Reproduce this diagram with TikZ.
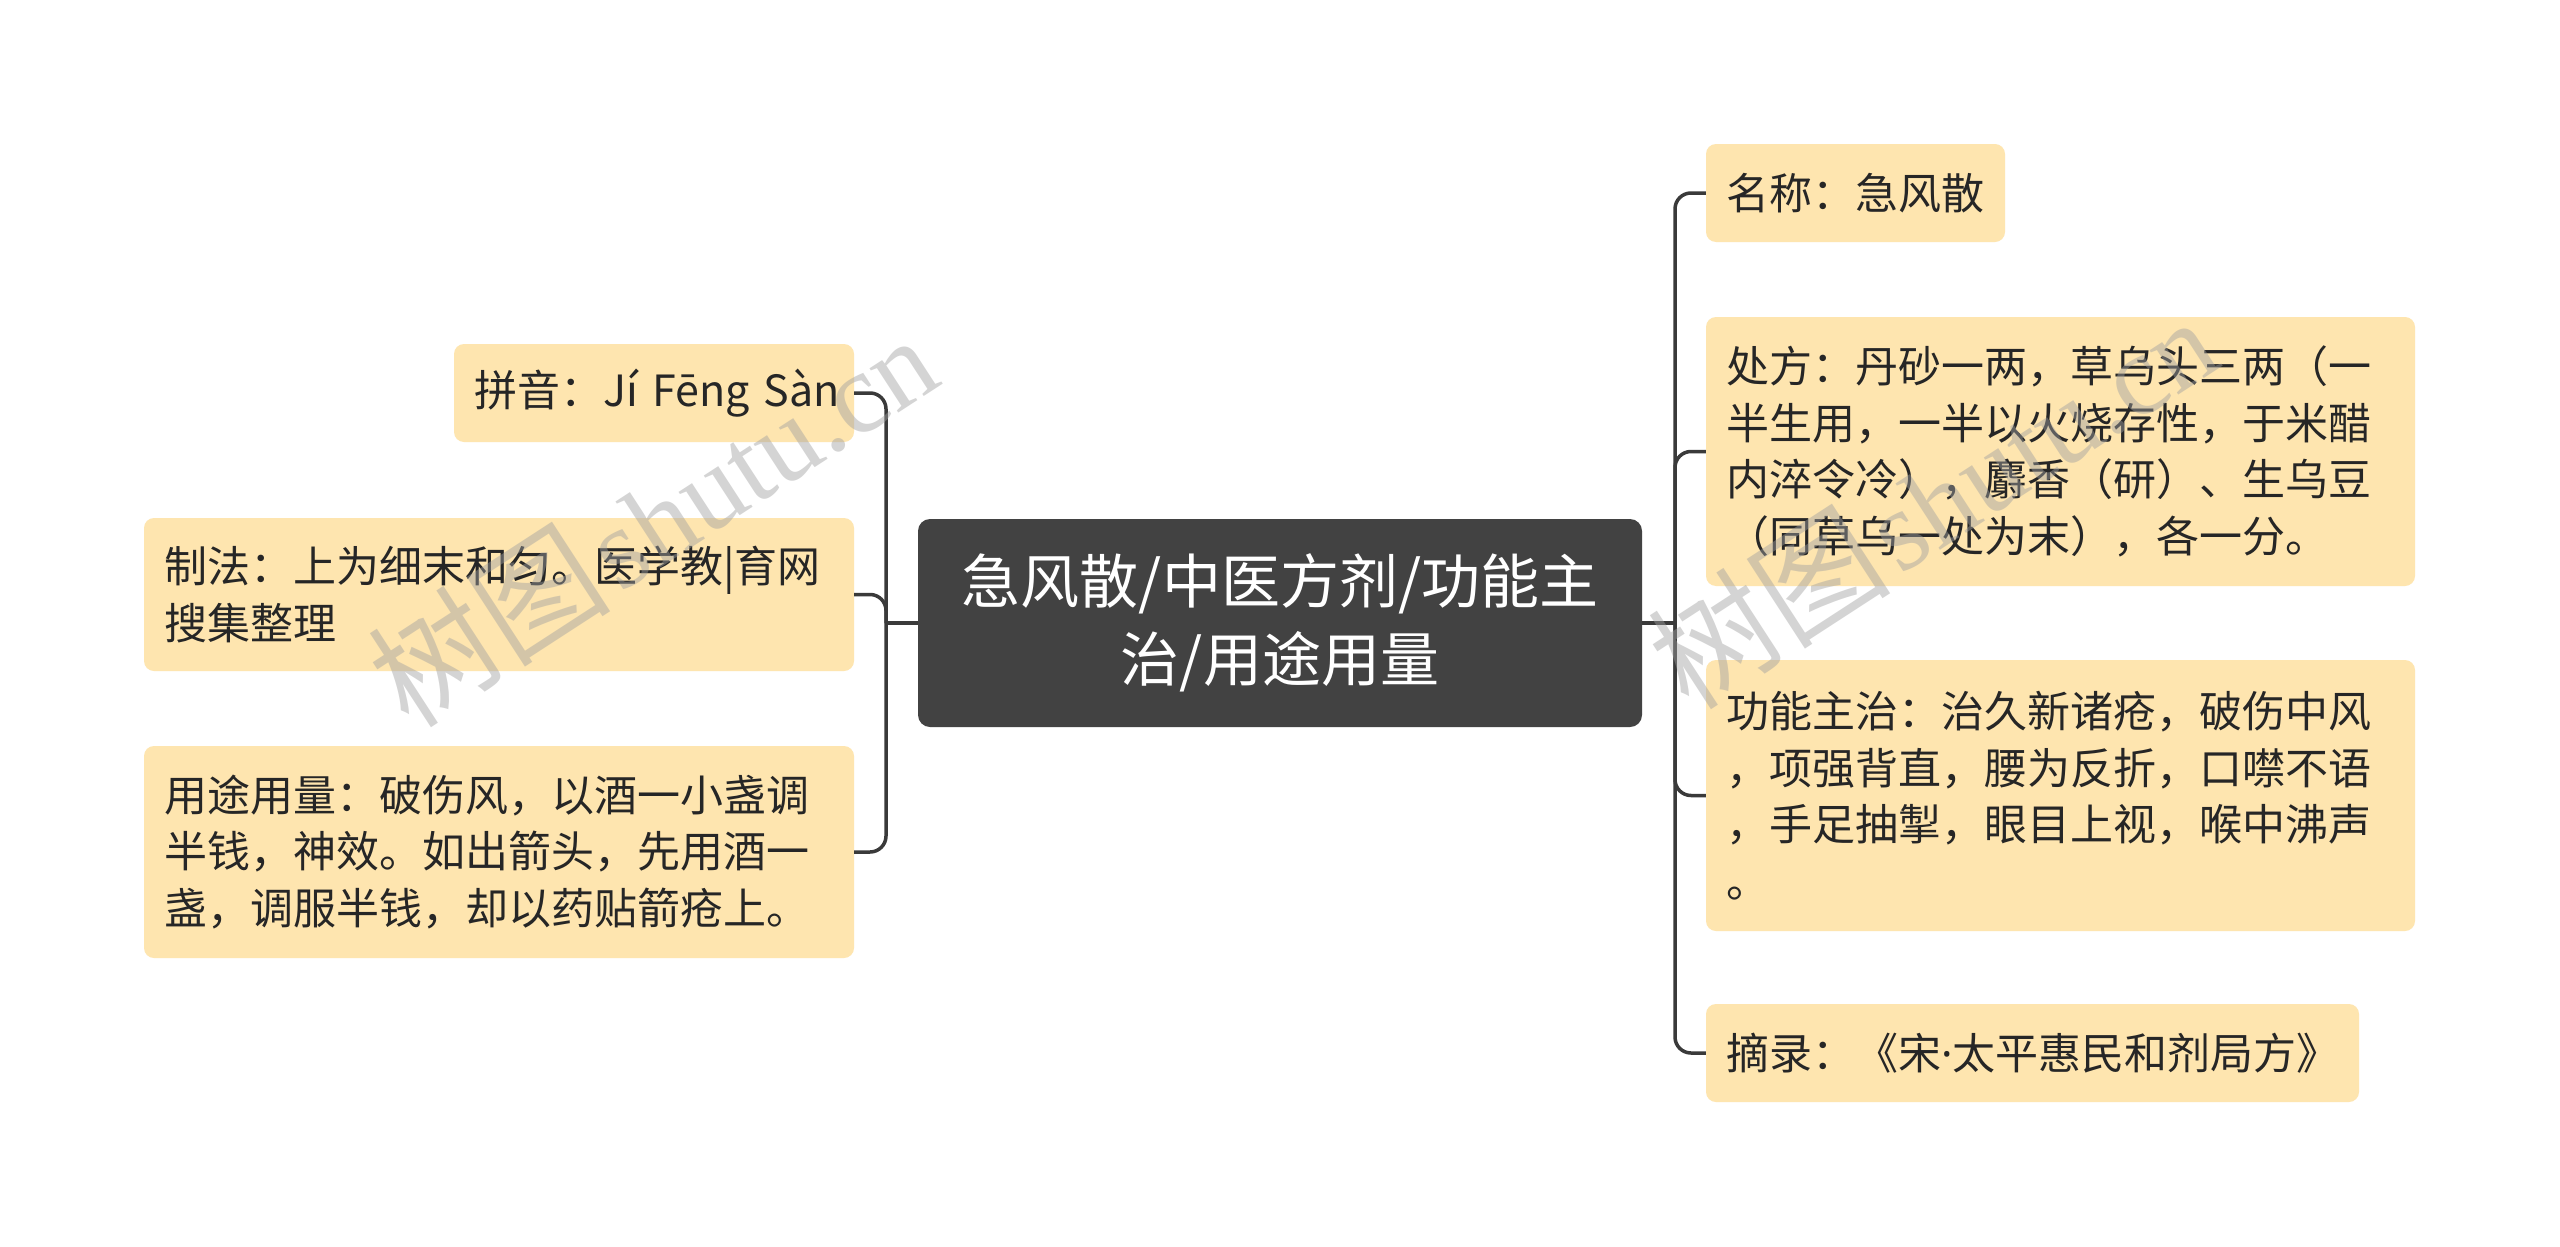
\documentclass[tikz,border=0pt]{standalone}
\usepackage{fontspec}
\newfontfamily\cjk{Noto Sans CJK SC}
\newfontfamily\latinsans{Noto Sans}
\newfontfamily\wmserif{Liberation Serif}
\definecolor{leafc}{RGB}{254,229,175}
\definecolor{rootc}{RGB}{66,66,66}
\definecolor{linec}{RGB}{58,58,58}
\definecolor{txtc}{RGB}{38,38,38}
\definecolor{wmc}{RGB}{160,160,160}
\tikzset{
  leaf/.style={rectangle, rounded corners=10pt, fill=leafc, text=txtc, inner xsep=20pt, inner ysep=0pt,
    align=left, font=\cjk\fontsize{43}{56.5}\selectfont},
  rootnode/.style={rectangle, rounded corners=12pt, fill=rootc, text=white, inner sep=0pt,
    align=center, font=\cjk\fontsize{59}{78}\selectfont, minimum width=724pt, minimum height=208pt},
  conn/.style={draw=linec, line width=3.5pt, rounded corners=16pt},
  wmark/.style={text=wmc, opacity=0.45, rotate=33, inner sep=0pt}
}
\begin{document}
\begin{tikzpicture}[x=1pt,y=-1pt]
\useasboundingbox[fill=white] (0,0) rectangle (2560,1247);
% root
\node[rootnode] (root) at (1280,623) {急风散/中医方剂/功能主\\治/用途用量};
% left
\node[leaf, text width=360pt, minimum height=98pt] (py) at (654,393) {\mbox{拼音：Jí Fēng Sàn}};
\node[leaf, text width=670pt, minimum height=153pt] (zf) at (499,594.5) {制法：上为细末和匀。医学教|育网\\搜集整理};
\node[leaf, text width=670pt, minimum height=212pt] (yt) at (499,852) {用途用量：破伤风，以酒一小盏调\\半钱，神效。如出箭头，先用酒一\\盏，调服半钱，却以药贴箭疮上。};
% right
\node[leaf, text width=259pt, minimum height=98pt] (mc) at (1855.5,193) {名称：急风散};
\node[leaf, text width=669pt, minimum height=269pt] (cf) at (2060.5,451.5) {处方：丹砂一两，草乌头三两（一\\半生用，一半以火烧存性，于米醋\\内淬令冷），麝香（研）、生乌豆\\（同草乌一处为末），各一分。};
\node[leaf, text width=669pt, minimum height=271pt] (gn) at (2060.5,795.5) {功能主治：治久新诸疮，破伤中风\\，项强背直，腰为反折，口噤不语\\，手足抽掣，眼目上视，喉中沸声\\。};
\node[leaf, text width=613pt, minimum height=98pt] (zl) at (2032.5,1053) {摘录：《宋{\latinsans ·}太平惠民和剂局方》};
% connectors
\coordinate (lt) at (886,623);
\coordinate (rt) at (1675,623);
\draw[conn] (root.west) -- (lt);
\draw[conn] (lt) |- (py.east);
\draw[conn] (lt) |- (zf.east);
\draw[conn] (lt) |- (yt.east);
\draw[conn] (root.east) -- (rt);
\draw[conn] (rt) |- (mc.west);
\draw[conn] (rt) |- (cf.west);
\draw[conn] (rt) |- (gn.west);
\draw[conn] (rt) |- (zl.west);
% watermarks
\node[wmark] (wm1) at (652,518) {\cjk\fontsize{122}{122}\selectfont 树图\hspace{8pt}\wmserif\fontsize{115}{115}\selectfont shutu.cn};
\node[wmark] (wm2) at (1932,500) {\cjk\fontsize{122}{122}\selectfont 树图\hspace{8pt}\wmserif\fontsize{115}{115}\selectfont shutu.cn};
\end{tikzpicture}
\end{document}
